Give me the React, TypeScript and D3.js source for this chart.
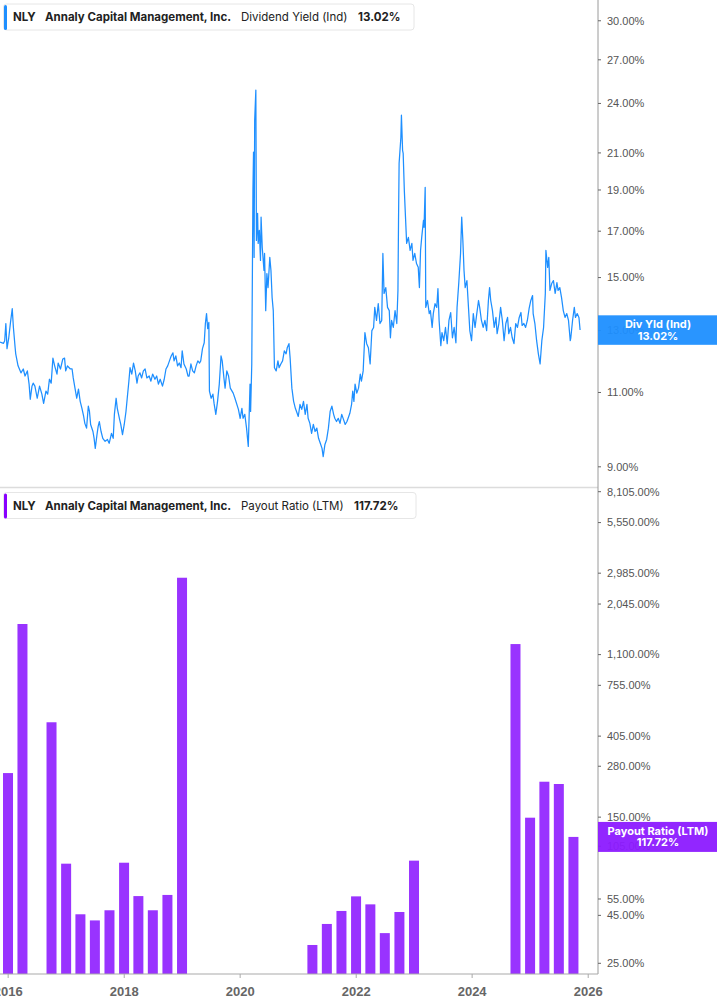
import React from "react";
import * as d3 from "d3";

// ---------- DATA ----------
// Dividend Yield (Ind), % — [decimal year, value]
const dividendYield: [number, number][] = [
  [2015.86, 12.6], [2015.92, 12.56], [2015.94, 12.65], [2015.96, 13.25], [2015.98, 12.38], [2016.01, 12.75],
  [2016.04, 13.29], [2016.07, 13.79], [2016.09, 13.11], [2016.12, 12.41], [2016.13, 12.21], [2016.17, 11.82],
  [2016.22, 11.6], [2016.26, 11.72], [2016.29, 11.5], [2016.33, 11.66], [2016.36, 11.25], [2016.38, 10.8],
  [2016.41, 11.19], [2016.43, 11.28], [2016.46, 11.19], [2016.5, 10.83], [2016.54, 11.19], [2016.58, 10.95],
  [2016.61, 10.68], [2016.65, 11.04], [2016.68, 10.95], [2016.71, 11.4], [2016.74, 11.28], [2016.77, 12.07],
  [2016.8, 11.82], [2016.84, 11.56], [2016.86, 11.91], [2016.9, 11.72], [2016.94, 12.04], [2016.97, 12.07],
  [2016.99, 11.66], [2017.02, 11.82], [2017.07, 11.72], [2017.1, 11.72], [2017.12, 11.44], [2017.15, 11.13],
  [2017.18, 10.83], [2017.21, 11.1], [2017.24, 10.74], [2017.27, 10.54], [2017.3, 10.31], [2017.32, 10.12],
  [2017.35, 9.99], [2017.38, 10.6], [2017.4, 10.45], [2017.42, 10.09], [2017.46, 9.9], [2017.48, 9.72],
  [2017.5, 9.46], [2017.53, 9.82], [2017.55, 10.04], [2017.57, 10.17], [2017.6, 9.9], [2017.63, 9.72],
  [2017.67, 9.64], [2017.71, 9.69], [2017.74, 9.59], [2017.78, 9.85], [2017.81, 9.72], [2017.83, 10.37],
  [2017.86, 10.83], [2017.88, 10.54], [2017.92, 10.23], [2017.94, 10.09], [2017.97, 9.82], [2018.0, 10.09],
  [2018.03, 10.45], [2018.05, 10.8], [2018.08, 11.34], [2018.1, 11.76], [2018.13, 11.56], [2018.16, 11.91],
  [2018.19, 11.66], [2018.22, 11.28], [2018.24, 11.5], [2018.27, 11.6], [2018.3, 11.44], [2018.33, 11.66],
  [2018.36, 11.72], [2018.39, 11.44], [2018.43, 11.5], [2018.46, 11.34], [2018.49, 11.56], [2018.53, 11.4],
  [2018.56, 11.5], [2018.59, 11.25], [2018.62, 11.4], [2018.66, 11.19], [2018.69, 11.4], [2018.72, 11.72],
  [2018.75, 11.82], [2018.78, 11.98], [2018.81, 12.14], [2018.84, 12.24], [2018.86, 11.98], [2018.89, 12.14],
  [2018.92, 11.82], [2018.95, 11.91], [2018.98, 11.76], [2019.0, 12.31], [2019.03, 11.88], [2019.07, 11.72],
  [2019.1, 11.5], [2019.12, 11.5], [2019.15, 11.88], [2019.18, 11.66], [2019.21, 11.6], [2019.24, 11.82],
  [2019.27, 11.98], [2019.3, 11.91], [2019.32, 11.98], [2019.35, 12.38], [2019.38, 12.58], [2019.4, 13.25],
  [2019.42, 13.61], [2019.44, 13.07], [2019.46, 13.29], [2019.47, 11.04], [2019.5, 10.83], [2019.53, 10.95],
  [2019.55, 10.68], [2019.58, 10.37], [2019.61, 10.74], [2019.64, 11.25], [2019.67, 12.14], [2019.69, 11.98],
  [2019.72, 11.44], [2019.74, 11.13], [2019.77, 11.66], [2019.8, 11.5], [2019.83, 11.13], [2019.88, 10.98],
  [2019.91, 10.83], [2019.97, 10.51], [2020.0, 10.26], [2020.03, 10.54], [2020.05, 10.26], [2020.08, 10.37],
  [2020.11, 9.99], [2020.14, 9.51], [2020.17, 11.25], [2020.18, 10.45], [2020.2, 11.88], [2020.21, 15.0],
  [2020.22, 18.98], [2020.23, 21.04], [2020.24, 15.84], [2020.25, 22.94], [2020.27, 24.88], [2020.28, 16.58],
  [2020.3, 17.84], [2020.31, 16.45], [2020.33, 17.04], [2020.35, 15.71], [2020.36, 17.66], [2020.38, 16.27],
  [2020.41, 15.29], [2020.42, 16.01], [2020.44, 13.72], [2020.46, 15.16], [2020.48, 14.6], [2020.51, 15.84],
  [2020.53, 15.29], [2020.55, 14.21], [2020.57, 13.72], [2020.59, 11.76], [2020.62, 11.66], [2020.65, 11.98],
  [2020.67, 11.76], [2020.7, 11.88], [2020.73, 11.98], [2020.76, 12.31], [2020.79, 12.21], [2020.81, 12.41],
  [2020.84, 12.55], [2020.86, 12.07], [2020.89, 11.13], [2020.92, 10.74], [2020.95, 10.54], [2020.97, 10.45],
  [2021.0, 10.31], [2021.03, 10.65], [2021.06, 10.51], [2021.09, 10.74], [2021.12, 10.37], [2021.15, 10.65],
  [2021.17, 10.26], [2021.2, 10.12], [2021.23, 9.85], [2021.26, 10.09], [2021.29, 9.9], [2021.32, 9.99],
  [2021.35, 9.72], [2021.38, 9.59], [2021.41, 9.46], [2021.43, 9.25], [2021.46, 9.56], [2021.49, 9.69],
  [2021.52, 9.99], [2021.55, 10.45], [2021.58, 10.6], [2021.61, 10.37], [2021.63, 10.26], [2021.66, 10.17],
  [2021.69, 10.26], [2021.72, 10.12], [2021.75, 10.37], [2021.78, 10.23], [2021.81, 10.09], [2021.84, 10.17],
  [2021.86, 10.26], [2021.89, 10.4], [2021.92, 10.65], [2021.94, 11.04], [2021.96, 10.74], [2021.98, 11.25],
  [2022.01, 10.98], [2022.04, 11.13], [2022.07, 11.56], [2022.09, 11.34], [2022.12, 11.66], [2022.15, 12.93],
  [2022.18, 12.55], [2022.21, 12.41], [2022.24, 11.88], [2022.27, 13.0], [2022.3, 13.11], [2022.32, 13.84],
  [2022.35, 13.36], [2022.38, 13.98], [2022.41, 13.25], [2022.44, 13.36], [2022.46, 16.01], [2022.48, 14.37],
  [2022.51, 14.6], [2022.54, 13.84], [2022.57, 13.72], [2022.59, 12.75], [2022.61, 13.36], [2022.64, 13.11],
  [2022.67, 13.72], [2022.7, 13.25], [2022.72, 14.49], [2022.73, 17.5], [2022.74, 20.42], [2022.77, 21.87],
  [2022.78, 23.25], [2022.8, 21.15], [2022.81, 20.98], [2022.83, 18.98], [2022.85, 17.66], [2022.87, 16.45],
  [2022.9, 16.72], [2022.93, 16.14], [2022.96, 16.45], [2022.98, 15.71], [2023.01, 16.01], [2023.04, 15.58],
  [2023.07, 15.42], [2023.09, 14.6], [2023.11, 16.14], [2023.13, 16.72], [2023.16, 17.5], [2023.17, 17.18],
  [2023.19, 19.14], [2023.2, 13.84], [2023.23, 14.1], [2023.26, 13.61], [2023.28, 13.72], [2023.31, 13.11],
  [2023.33, 13.61], [2023.36, 13.98], [2023.39, 13.84], [2023.41, 14.56], [2023.43, 13.36], [2023.46, 12.48],
  [2023.48, 12.93], [2023.51, 12.65], [2023.54, 13.11], [2023.57, 12.55], [2023.6, 13.36], [2023.63, 13.65],
  [2023.66, 12.75], [2023.69, 13.11], [2023.72, 12.58], [2023.74, 13.84], [2023.77, 14.8], [2023.8, 16.01],
  [2023.82, 17.66], [2023.84, 16.58], [2023.86, 15.29], [2023.88, 14.6], [2023.91, 14.88], [2023.93, 14.1],
  [2023.96, 13.0], [2023.99, 12.65], [2024.02, 13.61], [2024.05, 13.11], [2024.08, 13.61], [2024.11, 14.1],
  [2024.13, 13.84], [2024.16, 13.36], [2024.19, 13.11], [2024.22, 13.36], [2024.25, 13.0], [2024.28, 14.1],
  [2024.3, 14.6], [2024.32, 14.1], [2024.35, 13.72], [2024.38, 13.11], [2024.41, 13.47], [2024.43, 12.89],
  [2024.46, 13.25], [2024.49, 13.84], [2024.52, 13.36], [2024.55, 12.65], [2024.58, 13.25], [2024.61, 13.47],
  [2024.63, 12.89], [2024.66, 13.11], [2024.69, 12.75], [2024.72, 12.55], [2024.75, 13.25], [2024.78, 13.11],
  [2024.81, 13.47], [2024.84, 13.65], [2024.86, 13.18], [2024.89, 13.25], [2024.92, 13.11], [2024.95, 13.36],
  [2024.98, 13.79], [2025.01, 14.1], [2025.04, 14.29], [2025.05, 13.61], [2025.08, 13.25], [2025.11, 12.65],
  [2025.14, 12.21], [2025.17, 11.88], [2025.2, 12.65], [2025.23, 13.11], [2025.26, 14.37], [2025.27, 16.14],
  [2025.3, 15.42], [2025.32, 15.84], [2025.34, 14.49], [2025.37, 14.76], [2025.4, 14.88], [2025.43, 14.37],
  [2025.46, 14.8], [2025.48, 14.49], [2025.51, 14.6], [2025.54, 14.21], [2025.57, 13.72], [2025.6, 13.47],
  [2025.63, 13.61], [2025.66, 13.36], [2025.69, 12.65], [2025.7, 12.75], [2025.73, 13.36], [2025.76, 13.84],
  [2025.78, 13.47], [2025.81, 13.61], [2025.84, 13.47], [2025.86, 13.02],
];

// Payout Ratio (LTM), % — quarterly (missing quarters are not plotted)
const payoutQuarters = [
  "2015-12-31", "2016-03-31", "2016-09-30", "2016-12-31", "2017-03-31", "2017-06-30", "2017-09-30",
  "2017-12-31", "2018-03-31", "2018-06-30", "2018-09-30", "2018-12-31",
  "2021-03-31", "2021-06-30", "2021-09-30", "2021-12-31", "2022-03-31", "2022-06-30", "2022-09-30", "2022-12-31",
  "2024-09-30", "2024-12-31", "2025-03-31", "2025-06-30", "2025-09-30",
];
const payoutValues = [
  257.5, 1601, 480, 84.8, 45.6, 42.3, 47.9, 85.8, 57.0, 47.9, 57.8, 2823,
  31.3, 40.5, 47.5, 56.8, 51.5, 36.2, 46.9, 88.0,
  1252, 149.0, 231.6, 225.2, 117.72,
];

const yieldTicks = [9, 11, 13, 15, 17, 19, 21, 24, 27, 30];
const payoutTicks = [25, 45, 55, 105, 150, 280, 405, 755, 1100, 2045, 2985, 5550, 8105];
const yearTicks = [2016, 2018, 2020, 2022, 2024, 2026];

const ticker = "NLY";
const company = "Annaly Capital Management, Inc.";
const yieldTitle = "Dividend Yield (Ind)";
const payoutTitle = "Payout Ratio (LTM)";
const yieldShort = "Div Yld (Ind)";

// ---------- LAYOUT ----------
const W = 717;
const H = 1005;
const AX = 598;
const TOP0 = 0, TOP1 = 488;
const BOT0 = 489, BOT1 = 974;
const BLUE = "#1e8fff";
const PURPLE = "#9933ff";
const PURPLE_BOX = "#8c1aff";

function yearToDate(y: number): Date {
  const yr = Math.floor(y);
  const s = Date.UTC(yr, 0, 1);
  const e = Date.UTC(yr + 1, 0, 1);
  return new Date(s + (y - yr) * (e - s));
}

const fmtPct = (v: number) => d3.format(",.2f")(v) + "%";

export default function App() {
  const x = d3.scaleUtc().domain([yearToDate(2015.859), yearToDate(2026.169)]).range([0, AX]);
  const yTop = d3.scaleLog().domain([8.5, 31.73]).range([TOP1, TOP0]);
  const yBot = d3.scaleLog().domain([21.93, 8378]).range([BOT1, BOT0]);

  const line = d3
    .line<[number, number]>()
    .x((d) => x(yearToDate(d[0])))
    .y((d) => yTop(d[1]));

  const lastYield = dividendYield[dividendYield.length - 1][1];
  const lastPayout = payoutValues[payoutValues.length - 1];
  const cy1 = yTop(lastYield);
  const cy2 = yBot(lastPayout);
  const barW = 10;

  const tickFont = "'Liberation Sans', Arial, sans-serif";
  const headFont = "Inter, 'Noto Sans', sans-serif";

  const Header = ({ y, color, title, value, right }: any) => (
    <g>
      <rect x={3.5} y={y} width={right - 3.5} height={26} rx={3} fill="#fff" stroke="#e6e6e6" />
      <rect x={4} y={y + 1} width={3} height={25} rx={1.5} fill={color} />
      <g fontFamily={headFont} fontSize={11.5} fill="#222">
        <text x={13} y={y + 17} fontWeight={700}>{ticker}</text>
        <text x={45} y={y + 17} fontWeight={700}>{company}</text>
        <text x={241} y={y + 17} fontWeight={400}>{title}</text>
        <text x={value.x} y={y + 17} fontWeight={700}>{value.t}</text>
      </g>
    </g>
  );

  return (
    <svg
      width={W}
      height={H}
      viewBox={`0 0 ${W} ${H}`}
      style={{ position: "absolute", left: 0, top: 0, background: "#fff" }}
    >
      <defs>
        <clipPath id="clipTop">
          <rect x={0} y={TOP0} width={AX} height={TOP1 - TOP0} />
        </clipPath>
        <clipPath id="clipBot">
          <rect x={0} y={BOT0} width={AX} height={BOT1 - BOT0} />
        </clipPath>
      </defs>

      {/* divider between panels */}
      <line x1={0} x2={AX} y1={487.5} y2={487.5} stroke="#dcdcdc" strokeWidth={1.5} />

      {/* line */}
      <g clipPath="url(#clipTop)">
        <path d={line(dividendYield) || ""} fill="none" stroke={BLUE} strokeWidth={1.25} strokeLinejoin="round" />
      </g>

      {/* bars */}
      <g clipPath="url(#clipBot)">
        {payoutQuarters.map((q, i) => {
          const cx = x(new Date(q + "T00:00:00Z"));
          const yv = yBot(payoutValues[i]);
          return <rect key={q} x={cx - barW / 2} y={yv} width={barW} height={BOT1 - yv} fill={PURPLE} />;
        })}
      </g>

      {/* right axis */}
      <line x1={AX} x2={AX} y1={0} y2={BOT1} stroke="#9a9a9a" strokeWidth={1} />
      <g fontFamily={tickFont} fontSize={11} fill="#555">
        {yieldTicks.map((t) => (
          <g key={"yt" + t}>
            <line x1={AX} x2={AX + 3} y1={yTop(t)} y2={yTop(t)} stroke="#666" />
            <text x={607} y={yTop(t)} dy="0.35em">{fmtPct(t)}</text>
          </g>
        ))}
        {payoutTicks.map((t) => (
          <g key={"pt" + t}>
            <line x1={AX} x2={AX + 3} y1={yBot(t)} y2={yBot(t)} stroke="#666" />
            <text x={607} y={yBot(t)} dy="0.35em">{fmtPct(t)}</text>
          </g>
        ))}
      </g>

      {/* x axis */}
      <line x1={0} x2={AX} y1={BOT1} y2={BOT1} stroke="#aaa" strokeWidth={1.2} />
      <g fontFamily={tickFont} fontSize={13} fontWeight={700} fill="#666" textAnchor="middle">
        {yearTicks.map((yr) => {
          const xx = x(new Date(Date.UTC(yr, 0, 1)));
          return (
            <g key={yr}>
              <line x1={xx} x2={xx} y1={BOT1} y2={BOT1 + 4} stroke="#aaa" />
              <text x={xx} y={996}>{yr}</text>
            </g>
          );
        })}
      </g>

      {/* last value labels */}
      <g fontFamily={headFont} fontSize={11} fontWeight={700} fill="#fff" textAnchor="middle">
        <rect x={AX} y={cy1 - 14.7} width={W - AX} height={29.5} fill={BLUE} opacity={0.95} />
        <text x={658} y={cy1 - 2}>{yieldShort}</text>
        <text x={658} y={cy1 + 9.5}>{fmtPct(lastYield)}</text>
        <rect x={AX} y={cy2 - 15} width={W - AX} height={30} fill={PURPLE_BOX} opacity={0.95} />
        <text x={658} y={cy2 - 2}>{payoutTitle}</text>
        <text x={658} y={cy2 + 9.5}>{fmtPct(lastPayout)}</text>
      </g>

      {/* headers */}
      <Header y={4} color={BLUE} title={yieldTitle} value={{ x: 358, t: fmtPct(lastYield) }} right={414} />
      <Header y={492.5} color={"#8800ff"} title={payoutTitle} value={{ x: 354, t: fmtPct(lastPayout) }} right={416} />
    </svg>
  );
}
